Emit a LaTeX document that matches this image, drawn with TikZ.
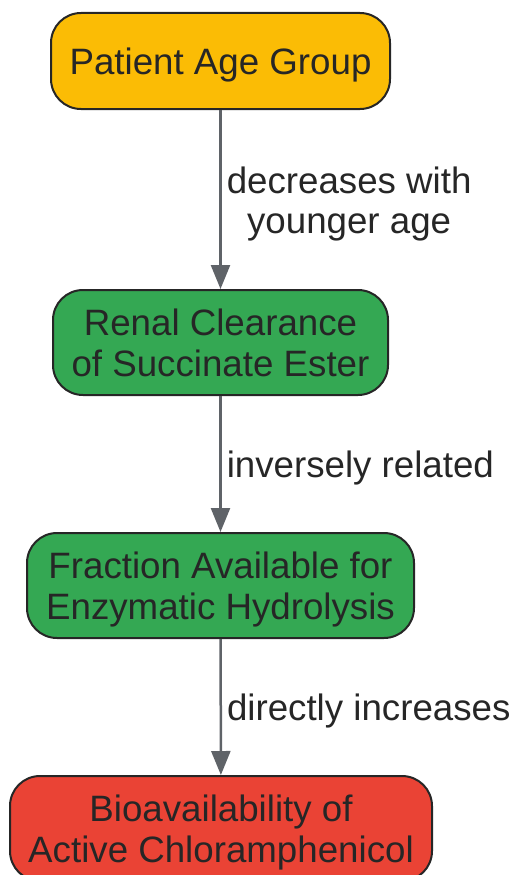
\documentclass[tikz,border=0pt]{standalone}
\usepackage{fontspec}
\setmainfont{Liberation Sans}
\usetikzlibrary{arrows.meta}
\definecolor{cyellow}{HTML}{FBBC05}
\definecolor{cgreen}{HTML}{34A853}
\definecolor{cred}{HTML}{EA4335}
\definecolor{cborder}{HTML}{262626}
\definecolor{ctext}{HTML}{262626}
\definecolor{carrow}{HTML}{5F6368}
\begin{document}
\begin{tikzpicture}[x=1pt,y=1pt,
  box/.style={draw=cborder, line width=2pt, rounded corners=30pt, align=center,
    text=ctext, inner sep=0pt, text height=27.5pt, text depth=0pt,
    font=\fontsize{36.7}{41}\selectfont},
  twoline/.style={text height=68.5pt},
  conn/.style={draw=carrow, line width=2.5pt, -{Triangle[length=24pt,width=19pt]}},
  lbl/.style={anchor=west, inner sep=0pt, xshift=5pt, text=ctext, align=center,
    text height=27.5pt, text depth=0pt, font=\fontsize{36.7}{40}\selectfont}]
\useasboundingbox (0,0) rectangle (517,-875);
\node[box, fill=cyellow, minimum width=339pt, minimum height=96pt] (a) at (220.5,-61) {Patient Age Group};
\node[box, twoline, fill=cgreen, minimum width=335pt, minimum height=105pt] (b) at (220.5,-342.5) {Renal Clearance\\of Succinate Ester};
\node[box, twoline, fill=cgreen, minimum width=387pt, minimum height=105pt] (c) at (220.5,-585.5) {Fraction Available for\\Enzymatic Hydrolysis};
\node[box, twoline, fill=cred, minimum width=422pt, minimum height=105pt] (d) at (221,-828.5) {Bioavailability of\\Active Chloramphenicol};
\draw[conn] (a) -- node[lbl, text height=67.5pt] {decreases with\\younger age} (b);
\draw[conn] (b) -- node[lbl] {inversely related} (c);
\draw[conn] (c) -- node[lbl] {directly increases} (d);
\end{tikzpicture}
\end{document}
